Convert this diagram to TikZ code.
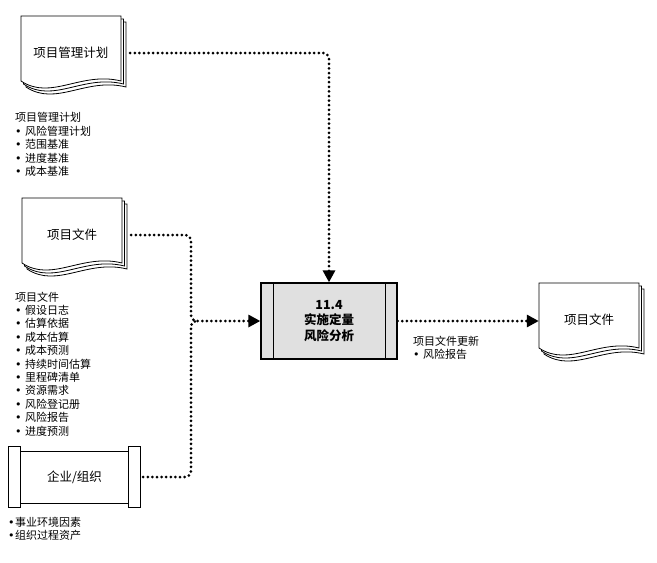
\documentclass[tikz,border=0pt]{standalone}
\usepackage{fontspec}
\setmainfont{Noto Sans CJK SC}
\newfontfamily\dejavu{DejaVu Sans}
\usetikzlibrary{arrows.meta,calc}
\newcommand\bul{\makebox[10pt][l]{\dejavu •}}
\newcommand\bulb{\makebox[7pt][l]{\dejavu •}}
\tikzset{
  docline/.style={draw=black, line width=0.8pt, fill=white},
  boxline/.style={draw=black, line width=1.2pt, fill=white},
  dotline/.style={line width=3pt, dash pattern=on 0pt off 4.6pt, line cap=round, rounded corners=6pt},
  tip/.style={-{Triangle[length=12pt,width=12pt]}},
  doctext/.style={inner sep=0pt, minimum width=100pt, minimum height=20pt, font=\fontsize{12.5}{15}\selectfont},
  listtext/.style={inner sep=0pt, anchor=north west, align=left, font=\fontsize{11}{13.4}\selectfont},
}
\newcommand\docpages[1]{%
  \begin{scope}[shift={(#1.center)}]
    \foreach \dx/\dy in {5/6, 2.5/3, 0/0} {
      \draw[docline] (-50+\dx,-37+\dy) -- (50+\dx,-37+\dy) -- (50+\dx,28+\dy)
        .. controls (10+\dx,18+\dy) and (-20+\dx,48+\dy) .. (-50+\dx,28+\dy) -- cycle;
    }
  \end{scope}}
\begin{document}
\begin{tikzpicture}[x=1pt,y=-1pt]
\useasboundingbox[fill=white] (0,0) rectangle (657,563);

% documents
\node[doctext] (pmp) at (71,53) {};
\docpages{pmp}
\node[doctext] at (pmp.center) {项目管理计划};

\node[doctext] (pd) at (72,235) {};
\docpages{pd}
\node[doctext] at (pd.center) {项目文件};

\node[doctext] (pd3) at (589,320) {};
\docpages{pd3}
\node[doctext] at (pd3.center) {项目文件};

% enterprise
\node[inner sep=0pt, minimum width=131pt, minimum height=60pt] (ent) at (74.5,477) {};
\draw[boxline] (ent.north west) rectangle ($(ent.south west)+(12,0)$);
\draw[boxline] (ent.north east) rectangle ($(ent.south east)+(-12,0)$);
\draw[boxline] ($(ent.north west)+(12,5)$) rectangle ($(ent.south east)+(-12,-4)$);
\node[font=\fontsize{12.5}{15}\selectfont, inner sep=0pt] at (ent.center) {企业/组织};

% process
\node[draw, line width=1.3pt, fill=black!12, minimum width=136pt, minimum height=76pt,
      align=center, inner sep=0pt, font=\bfseries\fontsize{12.5}{15.5}\selectfont] (proc) at (329,321) {11.4\\实施定量\\风险分析};
\draw[line width=1.1pt] ($(proc.north west)+(13,0)$) -- ($(proc.south west)+(13,0)$);
\draw[line width=1.1pt] ($(proc.north east)+(-12,0)$) -- ($(proc.south east)+(-12,0)$);

% connectors
\coordinate (j) at (191,321);
\coordinate (jr) at (199,321);
\draw[dotline,tip,shorten <=9pt] (pmp.east) -| (proc.north);
\draw[dotline,tip,shorten <=9pt] (pd.east) -| (j) -- (proc.west);
\draw[dotline,shorten <=3pt] (ent.east) -| (j) -- (jr);
\draw[dotline,tip] (proc.east) -- (pd3.west |- proc.east);

% lists
\node[listtext] (l1) at (15,112.5) {项目管理计划\\\bul 风险管理计划\\\bul 范围基准\\\bul 进度基准\\\bul 成本基准};
\node[listtext] (l2) at (15,291.5) {项目文件\\\bul 假设日志\\\bul 估算依据\\\bul 成本估算\\\bul 成本预测\\\bul 持续时间估算\\\bul 里程碑清单\\\bul 资源需求\\\bul 风险登记册\\\bul 风险报告\\\bul 进度预测};
\node[listtext] (l3) at (8,516.5) {\bulb 事业环境因素\\\bulb 组织过程资产};
\node[listtext] (l4) at (413,335.5) {项目文件更新\\\bul 风险报告};
\end{tikzpicture}
\end{document}
